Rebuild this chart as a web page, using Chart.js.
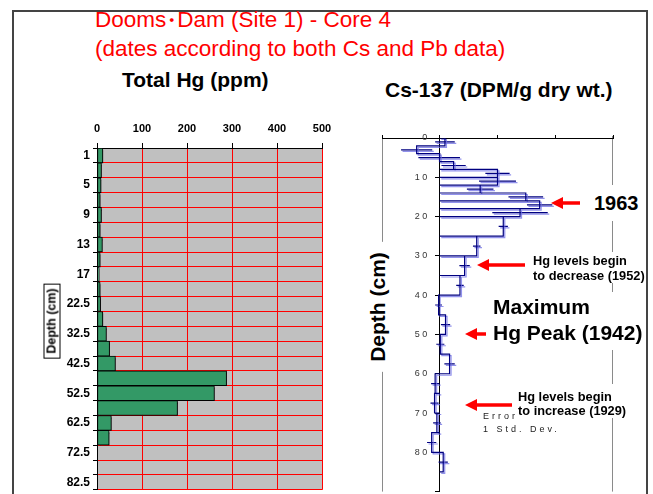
<!DOCTYPE html>
<html>
<head>
<meta charset="utf-8">
<script src="https://cdn.jsdelivr.net/npm/chart.js@4.4.0/dist/chart.umd.min.js"></script>
<style>
  body { margin: 0; width: 653px; height: 494px; overflow: hidden; background: #fff; position: relative;
         font-family: "Liberation Sans", Arial, "Noto Sans CJK JP", sans-serif; }
  .t { position: absolute; white-space: nowrap; color: #000; }
  .red { color: #ff0000; font-size: 22.5px; line-height: 27px; }
  .dot { font-size: 18px; margin: 0 -3.5px; }
  .big { font-weight: bold; font-size: 21px; }
  .small { font-weight: bold; font-size: 12.8px; line-height: 14.5px; background: #fff; }
  .rot { transform: translate(-50%, -50%) rotate(-90deg); }
  #frame { position: absolute; left: 12px; top: 10px; width: 636px; height: 600px; border: 2px solid #444; box-sizing: border-box; }
  canvas { position: absolute; }
</style>
</head>
<body>
<div id="frame"></div>

<div class="t red" style="left:95px;top:6px">Dooms<span class="dot">・</span>Dam (Site 1) - Core 4<br>(dates according to both Cs and Pb data)</div>
<div class="t big" style="left:122px;top:68px;line-height:24px">Total Hg (ppm)</div>
<div class="t big" style="left:385px;top:78px;line-height:24px">Cs-137 (DPM/g dry wt.)</div>

<canvas id="hg" width="340" height="400" style="left:0;top:100px"></canvas>
<canvas id="cs" width="313" height="400" style="left:340px;top:100px"></canvas>

<div class="t rot" style="left:52px;top:321px;font-weight:bold;font-size:12.5px;line-height:15px;border:1px solid #000;padding:0 4px;background:#fff">Depth (cm)</div>
<div class="t rot" style="left:378px;top:307px;font-weight:bold;font-size:21px;line-height:24px;padding:0 10px;background:#fff">Depth (cm)</div>

<svg width="653" height="494" style="position:absolute;left:0;top:0">
  <g fill="#ff0000" stroke="#ff0000" stroke-width="3.5">
    <line x1="561" y1="203" x2="580" y2="203"/><polygon stroke="none" points="551,203 563,197 563,209"/>
    <line x1="487" y1="265" x2="525" y2="265"/><polygon stroke="none" points="477,265 489,259 489,271"/>
    <line x1="475" y1="334" x2="486" y2="334"/><polygon stroke="none" points="465,334 477,328 477,340"/>
    <line x1="475" y1="405" x2="512" y2="405"/><polygon stroke="none" points="465,405 477,399 477,411"/>
  </g>
</svg>

<div class="t big" style="left:592px;top:185px;font-size:20px;line-height:24px;padding:6px 2px;background:#fff">1963</div>
<div class="t small" style="left:533px;top:252px;padding-top:2px">Hg levels begin<br>to decrease (1952)</div>
<div class="t big" style="left:493px;top:292px;line-height:26px;padding:2px 0 4px;background:#fff">Maximum<br>Hg Peak (1942)</div>
<div class="t" style="left:483px;top:410px;font-size:9px;line-height:13px;letter-spacing:3px;color:#222">Error<br>1 Std. Dev.</div>
<div class="t small" style="left:518px;top:384px;padding-top:6px;line-height:14px">Hg levels begin<br>to increase (1929)</div>

<script>
// Total Hg by depth (ppm)
const hgDepths = ['1', '3', '5', '7', '9', '11', '13', '15', '17', '19', '22.5', '27.5', '32.5', '37.5',
                  '42.5', '47.5', '52.5', '57.5', '62.5', '67.5', '72.5', '77.5', '82.5'];
const hgValues = [13, 10, 9, 7, 10, 7, 12, 7, 5, 7, 8, 13, 21, 28, 41, 288, 261, 179, 32, 27, 0, 0, 0];
const hgTicks = [0, 100, 200, 300, 400, 500];

// Cs-137 by depth interval (DPM/g dry wt.)
const csBounds = [0, 2, 4, 6, 8, 10, 12, 14, 16, 18, 20, 25, 30, 35, 40, 45, 50, 55, 60, 65, 70, 75, 80, 85];
const csValues = [0.09, -0.40, -0.01, 0.24, 1.00, 1.00, 0.70, 1.49, 1.73, 1.39, 1.10, 0.64, 0.43, 0.35,
                  -0.02, 0.10, 0.01, 0.17, -0.08, -0.09, -0.05, -0.14, 0.06];
const csErrors = [0.17, 0.27, 0.36, 0.21, 0.21, 0.32, 0.23, 0.30, 0.22, 0.48, 0.08, 0.065, 0.09, 0.065,
                  0.06, 0.08, 0.07, 0.09, 0.07, 0.07, 0.065, 0.08, 0.08];
const csDepthTicks = [0, 10, 20, 30, 40, 50, 60, 70, 80];

Chart.defaults.font.family = '"Liberation Sans", Arial, sans-serif';

const hgBackground = {
  id: 'hgBackground',
  beforeDraw(chart) {
    const { ctx, chartArea: a } = chart;
    ctx.save();
    ctx.fillStyle = '#c0c0c0';
    ctx.fillRect(a.left, a.top, a.right - a.left, a.bottom - a.top);
    ctx.restore();
  }
};

function shadowPlugin(color, dx, dy) {
  return {
    id: 'shadow',
    beforeDatasetsDraw(chart) {
      const c = chart.ctx;
      c.save();
      c.shadowColor = color;
      c.shadowOffsetX = dx;
      c.shadowOffsetY = dy;
      c.shadowBlur = 0;
    },
    afterDatasetsDraw(chart) {
      chart.ctx.restore();
    }
  };
}

const csFrame = {
  id: 'csFrame',
  beforeDraw(chart) {
    const { ctx, chartArea: a } = chart;
    ctx.save();
    ctx.strokeStyle = '#8a8a8a';
    ctx.lineWidth = 1;
    ctx.beginPath();
    ctx.moveTo(a.left + 0.5, a.top - 3);
    ctx.lineTo(a.left + 0.5, a.bottom);
    ctx.moveTo(a.right - 0.5, a.top - 2);
    ctx.lineTo(a.right - 0.5, a.bottom);
    ctx.stroke();
    ctx.restore();
  }
};

new Chart(document.getElementById('hg'), {
  type: 'bar',
  data: {
    labels: hgDepths,
    datasets: [{
      data: hgValues,
      backgroundColor: '#339966',
      borderColor: '#000',
      borderWidth: 1,
      borderSkipped: false,
      barPercentage: 1,
      categoryPercentage: 1
    }]
  },
  options: {
    indexAxis: 'y',
    responsive: false,
    animation: false,
    layout: { padding: { left: 0, right: 18, top: 0, bottom: 5 } },
    plugins: { legend: { display: false }, tooltip: { enabled: false } },
    scales: {
      x: {
        position: 'top',
        min: hgTicks[0],
        max: hgTicks[hgTicks.length - 1],
        ticks: { stepSize: 100, color: '#000', padding: 7, font: { size: 11, weight: 'bold' } },
        grid: { color: '#ff0000', tickColor: '#000', tickLength: 5 },
        border: { color: '#000' },
        afterFit: s => { s.height = 48; }
      },
      y: {
        ticks: {
          autoSkip: false,
          callback: (v, i) => (i % 2 === 0 ? hgDepths[i] : ''),
          color: '#000',
          padding: 3,
          font: { size: 12, weight: 'bold' }
        },
        grid: { offset: true, color: '#ff0000', tickColor: '#000', tickLength: 4 },
        border: { color: '#000' },
        afterFit: s => { s.width = 97; }
      }
    }
  },
  plugins: [hgBackground, shadowPlugin('rgba(0,0,0,0.4)', 2, 2)]
});

// step outline and error bars built from the interval arrays
const stepPoints = [];
csValues.forEach((v, i) => {
  stepPoints.push({ x: 0, y: csBounds[i] }, { x: v, y: csBounds[i] },
                  { x: v, y: csBounds[i + 1] }, { x: 0, y: csBounds[i + 1] });
});
const errPoints = [];
csValues.forEach((v, i) => {
  const mid = (csBounds[i] + csBounds[i + 1]) / 2;
  errPoints.push({ x: v - csErrors[i], y: mid }, { x: v + csErrors[i], y: mid }, { x: null, y: null });
});

new Chart(document.getElementById('cs'), {
  type: 'scatter',
  data: {
    datasets: [
      { data: stepPoints, showLine: true, borderColor: '#000080', borderWidth: 1.2, pointRadius: 0, tension: 0 },
      { data: errPoints, showLine: true, spanGaps: false, borderColor: '#000080', borderWidth: 1.2, pointRadius: 0 }
    ]
  },
  options: {
    responsive: false,
    animation: false,
    layout: { padding: { left: 42, right: 40, top: 0, bottom: 2 } },
    plugins: { legend: { display: false }, tooltip: { enabled: false } },
    scales: {
      x: {
        type: 'linear',
        position: 'top',
        min: -1,
        max: 3,
        ticks: { stepSize: 1, display: false },
        grid: { drawOnChartArea: false, color: '#000', tickLength: 3 },
        border: { color: '#000' },
        afterFit: s => { s.height = 38; }
      },
      y: {
        type: 'linear',
        position: { x: 0 },
        reverse: true,
        min: 0,
        max: 90,
        ticks: {
          stepSize: 10,
          color: '#333',
          font: { size: 9 },
          callback: v => (csDepthTicks.includes(v) ? String(v).split('').join(' ') + '     ' : '')
        },
        grid: { drawOnChartArea: false, color: '#000', tickLength: 4 },
        border: { color: '#000' }
      }
    }
  },
  plugins: [csFrame, shadowPlugin('rgba(110,110,230,0.75)', 1.5, 1.5)]
});
</script>
</body>
</html>
